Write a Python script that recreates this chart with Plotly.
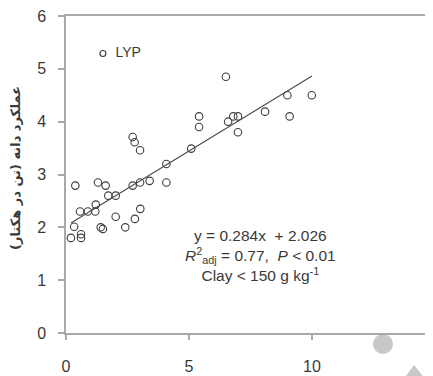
import plotly.graph_objects as go

# ---- data ----
clay_x = [0.20, 0.33, 0.38, 0.57, 0.61, 0.61, 0.89, 1.19, 1.21, 1.30, 1.41, 1.50, 1.61,
          1.72, 2.02, 2.02, 2.41, 2.71, 2.71, 2.79, 2.80, 3.01, 3.01, 3.02, 3.40, 4.08,
          4.08, 5.09, 5.41, 5.41, 6.50, 6.59, 6.80, 6.99, 6.99, 8.09, 9.00, 9.09, 9.99]
yield_y = [1.80, 2.01, 2.79, 2.30, 1.87, 1.80, 2.30, 2.30, 2.43, 2.85, 2.00, 1.97, 2.79,
           2.60, 2.60, 2.20, 2.00, 2.79, 3.71, 3.61, 2.16, 2.85, 3.46, 2.35, 2.88, 3.20,
           2.85, 3.49, 4.10, 3.90, 4.85, 4.00, 4.10, 4.10, 3.80, 4.19, 4.50, 4.10, 4.50]
slope = 0.284
intercept = 2.026
fit_x = [0.2, 10.0]
legend_name = "LYP"
legend_pt_x = [1.50]
legend_pt_y = [5.29]
x_ticks = [0, 5, 10]
y_ticks = [0, 1, 2, 3, 4, 5, 6]
y_title = "\u200fعملکرد دانه (تن در هکتار)\u200f"

FONT = "Liberation Sans, Arial, sans-serif"
AX = "#a9a9a9"
TXT = "#3a3a3a"

# page has an 8px body margin -> figure is 425x368 placed at (8, 8)
W, H = 425, 368
L, T, B = 58, 8, 43
PW, PH = W - L, H - T - B


def px_x(v):
    return (v - L) / PW


def px_y(v):
    return (H - B - v) / PH


fig = go.Figure()
fig.add_trace(go.Scatter(
    x=clay_x, y=yield_y, mode="markers",
    marker=dict(symbol="circle-open", size=7.5, color="#3c3c3c", line=dict(width=1.1)),
    showlegend=False, cliponaxis=False))
fig.add_trace(go.Scatter(
    x=fit_x, y=[slope * v + intercept for v in fit_x], mode="lines",
    line=dict(color="#4a4a4a", width=1.1), showlegend=False))
fig.add_trace(go.Scatter(
    x=legend_pt_x, y=legend_pt_y, mode="markers+text", text=["  " + legend_name],
    textposition="middle right", textfont=dict(family=FONT, size=14, color=TXT),
    marker=dict(symbol="circle-open", size=6, color="#3c3c3c", line=dict(width=1.1)),
    showlegend=False))

fig.add_annotation(
    xref="x", yref="y", x=7.9, y=1.47, showarrow=False, align="center",
    text=("y = 0.284x  + 2.026<br>"
          "<i>R</i><sup>2</sup><sub>adj</sub> = 0.77,  <i>P</i> < 0.01<br>"
          "Clay < 150 g kg<sup>-1</sup>"),
    font=dict(family=FONT, size=15.5, color=TXT))

fig.add_annotation(
    xref="paper", yref="paper", x=0, xshift=-51, y=px_y(168 - 8), xanchor="center",
    yanchor="middle", textangle=-90, showarrow=False, text="<b>" + y_title + "</b>",
    font=dict(family="DejaVu Sans", size=13, color=TXT))

# partially visible "15" tick label at right edge
fig.add_annotation(
    xref="paper", yref="paper", x=px_x(416), y=0, yshift=-33, xanchor="left",
    yanchor="middle", showarrow=False, text="15", borderpad=0,
    font=dict(family=FONT, size=16, color=TXT))

# grey watermark shapes at bottom right
fig.add_shape(type="circle", xref="paper", yref="paper",
              x0=px_x(365), x1=px_x(385), y0=px_y(346), y1=px_y(326),
              fillcolor="#c8c8c8", line=dict(width=0), layer="below")
fig.add_shape(type="path", xref="paper", yref="paper",
              path="M {:.4f} {:.4f} L {:.4f} {:.4f} L {:.4f} {:.4f} Z".format(
                  px_x(406), px_y(357), px_x(395), px_y(372), px_x(418), px_y(372)),
              fillcolor="#c8c8c8", line=dict(width=0), layer="below")

fig.update_layout(
    width=W, height=H,
    margin=dict(l=L, r=0, t=T, b=B, pad=0),
    plot_bgcolor="white", paper_bgcolor="white",
    font=dict(family=FONT, size=16, color=TXT),
    xaxis=dict(range=[0, PW / 24.6], tickvals=x_ticks, showgrid=False, zeroline=False,
               showline=True, linecolor=AX, linewidth=1.5, mirror=True,
               ticks="outside", ticklen=5, tickcolor=AX, tickwidth=1.5,
               ticklabelstandoff=13, ticklabeloverflow="allow",
               tickfont=dict(size=16, color=TXT, family=FONT)),
    yaxis=dict(range=[0, 6], tickvals=y_ticks, showgrid=False, zeroline=False,
               showline=True, linecolor=AX, linewidth=1.5,
               ticks="outside", ticklen=6, tickcolor=AX, tickwidth=1.5,
               ticklabelstandoff=9, ticklabeloverflow="allow",
               tickfont=dict(size=16, color=TXT, family=FONT)),
)

fig.write_html("out.html")
